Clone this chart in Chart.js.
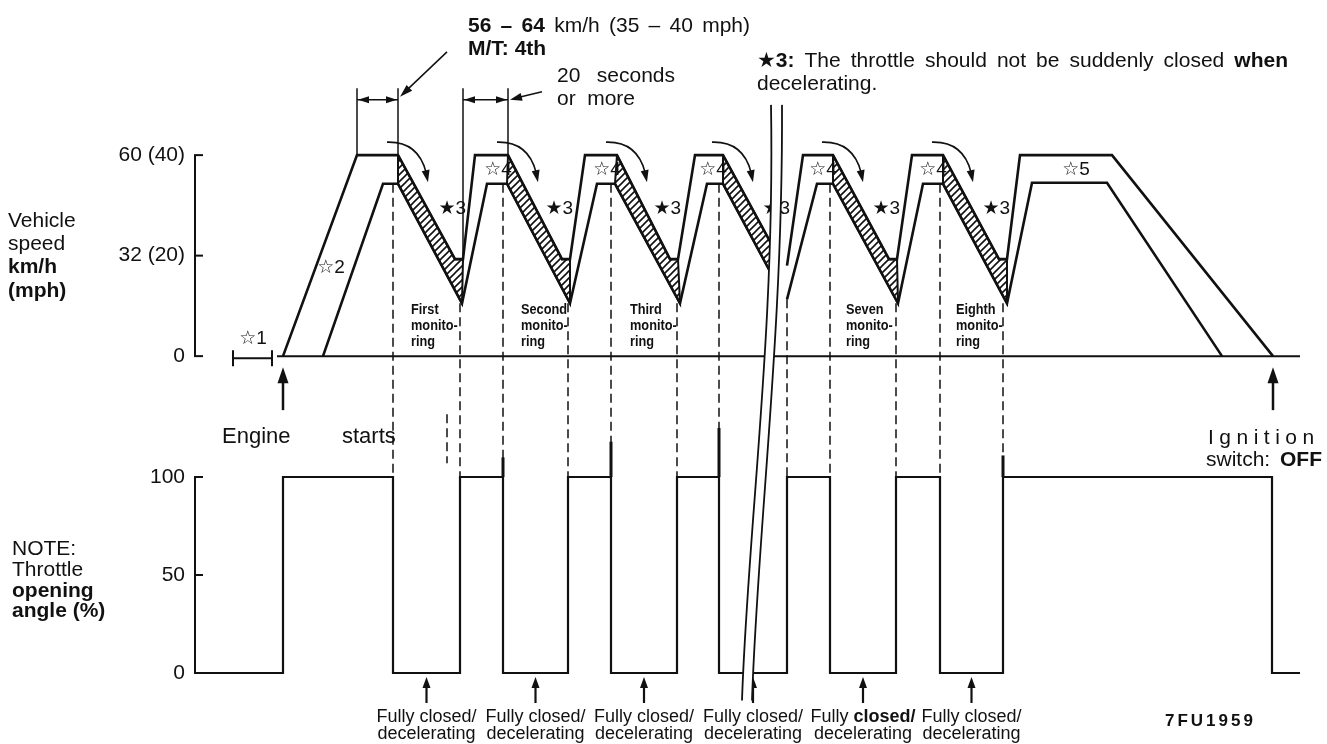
<!DOCTYPE html>
<html>
<head>
<meta charset="utf-8">
<script src="https://cdn.jsdelivr.net/npm/chart.js@4.4.0/dist/chart.umd.min.js"></script>
<style>
  html, body { margin: 0; padding: 0; background: #fff; }
  #wrap { position: relative; width: 1327px; height: 744px; }
</style>
</head>
<body>
<div id="wrap"><canvas id="chart"></canvas></div>
<script>
// time runs in plain drawing units: the source diagram has no time scale
const outerT = [88, 162, 203, 260, 268, 280, 313, 367, 375, 390, 422, 475, 483, 500, 528, 580, 586, 592, 608, 638, 694, 702, 717, 748, 804, 812, 825, 917, 1078];
const outerV = [0, 40, 40, 19.3, 19.3, 40, 40, 19.3, 19.3, 40, 40, 19.3, 19.3, 40, 40, 21, null, 18, 40, 40, 19.3, 19.3, 40, 40, 19.3, 19.3, 40, 40, 0];
const innerT = [128, 188, 203, 267, 292, 312, 375, 402, 420, 485, 512, 528, 580, 586, 592, 622, 638, 703, 728, 748, 812, 837, 912, 1027];
const innerV = [0, 34.3, 34.3, 10.5, 34.3, 34.3, 10.5, 34.3, 34.3, 10.5, 34.3, 34.3, 15, null, 11.3, 34.3, 34.3, 10.5, 34.3, 34.3, 10.5, 34.5, 34.5, 0];

// hatched decel bands: outer indices then inner indices (going back up)
const bandOuter = [[2, 3, 4], [6, 7, 8], [10, 11, 12], [14, 15], [19, 20, 21], [23, 24, 25]];
const bandInner = [[3, 2], [6, 5], [9, 8], [12, 11], [17, 16], [20, 19]];

const throtT = [5, 88, 198, 265, 308, 373, 416, 482, 524, 592, 635, 701, 745, 808, 1077, 1105];
const throtV = [0, 100, 0, 100, 0, 100, 0, 100, 0, 100, 0, 100, 0, 100, 0, 0];

const speedTickVals = [0, 20, 40];
const speedTickLabels = ['0', '32 (20)', '60 (40)'];
const throtTickVals = [0, 50, 100];
const throtTickLabels = ['0', '50', '100'];

const monitorLabels = ['First', 'Second', 'Third', 'Seven', 'Eighth'];
const monitorAt = [2, 6, 10, 19, 23];   // outer index where the decel starts
const star4At = [6, 10, 14, 19, 23];
const penT = [308, 416, 524, 808];       // heavy pen strokes above the throttle edges
const penTop = [110, 118, 125, 111];
const strayT = 252;
const breakT = 580;

const ink = '#111';
const FF = '"Liberation Sans", Arial, "DejaVu Sans", sans-serif';
const font = (size, bold) => (bold ? 'bold ' : '') + size + 'px ' + FF;

const canvas = document.getElementById('chart');
function hatch() {
  const c = document.createElement('canvas');
  c.width = 7; c.height = 7;
  const g = c.getContext('2d');
  g.strokeStyle = ink; g.lineWidth = 1.6;
  g.beginPath();
  g.moveTo(0, 7); g.lineTo(7, 0);
  g.moveTo(-1, 1); g.lineTo(1, -1);
  g.moveTo(6, 8); g.lineTo(8, 6);
  g.stroke();
  return canvas.getContext('2d').createPattern(c, 'repeat');
}
const hatchFill = hatch();

const pts = (ts, vs) => ts.map((t, i) => ({ x: t, y: vs[i] }));
const bands = bandOuter.map((oi, k) => {
  const p = oi.map(i => ({ x: outerT[i], y: outerV[i] }))
    .concat(bandInner[k].map(i => ({ x: innerT[i], y: innerV[i] })));
  p.push(p[0]);
  return {
    data: p, yAxisID: 'spd', fill: 'shape', backgroundColor: hatchFill,
    borderColor: ink, borderWidth: 2, pointRadius: 0, tension: 0, clip: false
  };
});

function nearestInner(t) {
  let best = 0;
  innerT.forEach((x, i) => { if (innerV[i] !== null && Math.abs(x - t) < Math.abs(innerT[best] - t)) best = i; });
  return innerV[best];
}

function line(ctx, x1, y1, x2, y2) {
  ctx.beginPath(); ctx.moveTo(x1, y1); ctx.lineTo(x2, y2); ctx.stroke();
}
function head(ctx, x, y, ang, len, wid) {
  ctx.beginPath();
  ctx.moveTo(x, y);
  ctx.lineTo(x - len * Math.cos(ang) + wid / 2 * Math.sin(ang), y - len * Math.sin(ang) - wid / 2 * Math.cos(ang));
  ctx.lineTo(x - len * Math.cos(ang) - wid / 2 * Math.sin(ang), y - len * Math.sin(ang) + wid / 2 * Math.cos(ang));
  ctx.closePath(); ctx.fill();
}
function spread(ctx, words, x, y, width, size) {
  const ws = words.map(w => { ctx.font = font(size, w[1]); return ctx.measureText(w[0]).width; });
  const sum = ws.reduce((a, b) => a + b, 0);
  const gap = words.length > 1 ? (width - sum) / (words.length - 1) : 0;
  let cx = x;
  words.forEach((w, i) => { ctx.font = font(size, w[1]); ctx.fillText(w[0], cx, y); cx += ws[i] + gap; });
}

const decor = {
  id: 'decor',
  afterDatasetsDraw(chart) {
    const ctx = chart.ctx;
    const X = chart.scales.x, S = chart.scales.spd, T = chart.scales.thr;
    const px = t => X.getPixelForValue(t);
    const sy = v => S.getPixelForValue(v);
    const ty = v => T.getPixelForValue(v);
    const area = chart.chartArea;
    ctx.save();
    ctx.strokeStyle = ink; ctx.fillStyle = ink;
    ctx.textBaseline = 'alphabetic'; ctx.textAlign = 'left';

    // axis brackets
    ctx.lineWidth = 2;
    const ax = area.left;
    line(ctx, ax, sy(40), ax, sy(0));
    speedTickVals.forEach(v => line(ctx, ax - 1, sy(v), ax + 8, sy(v)));
    line(ctx, ax, ty(100), ax, ty(0));
    throtTickVals.forEach(v => line(ctx, ax - 1, ty(v), ax + 8, ty(v)));

    // speed zero line and the idle bracket before start
    const x0 = px(outerT[0]), y0 = sy(0);
    line(ctx, x0 - 6, y0, area.right, y0);
    line(ctx, x0 - 50, y0 + 2, x0 - 11, y0 + 2);
    line(ctx, x0 - 50, y0 - 6, x0 - 50, y0 + 10);
    line(ctx, x0 - 11, y0 - 6, x0 - 11, y0 + 10);

    // dashed guides between the two panels
    ctx.lineWidth = 1.5;
    ctx.setLineDash([9, 5]);
    for (let i = 2; i <= 13; i++) {
      const t = throtT[i];
      line(ctx, px(t), sy(nearestInner(t)), px(t), ty(100));
    }
    line(ctx, px(strayT), ty(132), px(strayT), ty(107));
    ctx.setLineDash([]);
    ctx.lineWidth = 3;
    penT.forEach((t, i) => line(ctx, px(t), ty(penTop[i]), px(t), ty(100)));

    // dimension marks at the top
    ctx.lineWidth = 1.5;
    const yTop = sy(53.3), yA = sy(51);
    const dims = [[1, 2], [4, 6]];
    dims.forEach(([a, b]) => {
      const xa = px(outerT[a]), xb = px(outerT[b]);
      line(ctx, xa, yTop, xa, sy(outerV[a]));
      line(ctx, xb, yTop, xb, sy(outerV[b]));
      line(ctx, xa, yA, xb, yA);
      head(ctx, xa + 1, yA, Math.PI, 11, 7);
      head(ctx, xb - 1, yA, 0, 11, 7);
    });
    const xb1 = px(outerT[2]), xb2 = px(outerT[6]);
    line(ctx, xb1 + 49, yA - 48, xb1 + 8, yA - 9);
    head(ctx, xb1 + 2, yA - 3, Math.atan2(45, -47), 13, 8);
    line(ctx, xb2 + 34, yA - 8, xb2 + 9, yA - 2);
    head(ctx, xb2 + 2, yA, Math.atan2(8, -32), 12, 8);

    // curved arrows at each decel
    ctx.lineWidth = 1.6;
    const py = sy(40);
    [2, 6, 10, 14, 19, 23].forEach(i => {
      const pe = px(outerT[i]);
      ctx.beginPath();
      ctx.moveTo(pe - 11, py - 13);
      ctx.quadraticCurveTo(pe + 20, py - 14, pe + 28, py + 17);
      ctx.stroke();
      head(ctx, pe + 30, py + 27, Math.atan2(10, 2), 12, 8);
    });

    // star marks
    ctx.font = font(19);
    ctx.textAlign = 'center';
    ctx.fillText('☆1', x0 - 30, y0 - 12);
    ctx.fillText('☆2', x0 + 48, sy(16.5));
    star4At.forEach(i => ctx.fillText('☆4', px(outerT[i]) - 10, py + 20));
    ctx.fillText('☆5', px(outerT[26]) + 56, py + 20);
    ctx.textAlign = 'right';
    [4, 8, 12, 17, 21, 25].forEach(i => ctx.fillText('★3', px(outerT[i]) + 3, sy(28.3)));

    // monitoring labels
    ctx.textAlign = 'left';
    monitorLabels.forEach((lab, k) => {
      const x = px(outerT[monitorAt[k]]) + 13;
      [lab, 'monito-', 'ring'].forEach((s, j) => {
        ctx.save();
        ctx.translate(x, sy(8.3) + j * 16);
        ctx.scale(0.85, 1);
        ctx.font = font(15, true);
        ctx.fillText(s, 0, 0);
        ctx.restore();
      });
    });

    // engine start / ignition off arrows
    ctx.lineWidth = 2.5;
    const xe = px(outerT[0]), xo = px(outerT[outerT.length - 1]);
    [xe, xo].forEach(x => {
      line(ctx, x, y0 + 54, x, y0 + 20);
      head(ctx, x, y0 + 11, -Math.PI / 2, 16, 11);
    });
    ctx.font = font(22);
    ctx.fillText('Engine', 222, 443);
    ctx.fillText('starts', 342, 443);
    ctx.font = font(21);
    ctx.letterSpacing = '5.5px';
    ctx.fillText('Ignition', 1208, 444);
    ctx.letterSpacing = '0px';
    ctx.fillText('switch:', 1206, 466);
    ctx.font = font(21, true);
    ctx.fillText('OFF', 1280, 466);

    // fully closed arrows along the bottom
    ctx.lineWidth = 2.2;
    ctx.textAlign = 'center';
    for (let k = 0; k < 6; k++) {
      const xm = (px(throtT[2 + 2 * k]) + px(throtT[3 + 2 * k])) / 2;
      const yb = ty(0);
      line(ctx, xm, yb + 30, xm, yb + 12);
      head(ctx, xm, yb + 4, -Math.PI / 2, 11, 8);
      ctx.font = font(18);
      if (k === 4) {
        ctx.textAlign = 'left';
        const w1 = ctx.measureText('Fully ').width;
        ctx.font = font(18, true);
        const w2 = ctx.measureText('closed/').width;
        ctx.font = font(18);
        ctx.fillText('Fully ', xm - (w1 + w2) / 2, 722);
        ctx.font = font(18, true);
        ctx.fillText('closed/', xm - (w1 + w2) / 2 + w1, 722);
        ctx.textAlign = 'center';
        ctx.font = font(18);
      } else {
        ctx.fillText('Fully closed/', xm, 722);
      }
      ctx.fillText('decelerating', xm, 739);
    }

    // left titles
    ctx.textAlign = 'left';
    ctx.font = font(21); ctx.fillText('Vehicle', 8, 227); ctx.fillText('speed', 8, 250);
    ctx.font = font(21, true); ctx.fillText('km/h', 8, 273); ctx.fillText('(mph)', 8, 297);
    ctx.font = font(21); ctx.fillText('NOTE:', 12, 555); ctx.fillText('Throttle', 12, 576);
    ctx.font = font(21, true); ctx.fillText('opening', 12, 597); ctx.fillText('angle (%)', 12, 617);

    // top notes
    spread(ctx, [['56', 1], ['–', 1], ['64', 1], ['km/h'], ['(35'], ['–'], ['40'], ['mph)']], 468, 32, 282, 21);
    ctx.font = font(21, true); ctx.fillText('M/T: 4th', 468, 55);
    spread(ctx, [['20'], ['seconds']], 557, 82, 118, 21);
    spread(ctx, [['or'], ['more']], 557, 105, 78, 21);
    spread(ctx, [['★3:', 1], ['The'], ['throttle'], ['should'], ['not'], ['be'], ['suddenly'], ['closed'], ['when', 1]], 757, 67, 531, 21);
    ctx.font = font(21); ctx.fillText('decelerating.', 757, 90);

    ctx.font = font(17, true);
    ctx.letterSpacing = '3px';
    ctx.fillText('7FU1959', 1165, 726);
    ctx.letterSpacing = '0px';

    // break in the time axis
    const bx = px(breakT), bt = sy(50), bb = ty(-14);
    const A = [[bx - 4, bt], [bx, bt + 230], [bx - 27, bt + 420], [bx - 33, bb]];
    const B = [[bx + 7, bt], [bx + 8, bt + 230], [bx - 17, bt + 420], [bx - 23, bb]];
    ctx.fillStyle = '#fff';
    ctx.beginPath();
    ctx.moveTo(...A[0]); ctx.bezierCurveTo(...A[1], ...A[2], ...A[3]);
    ctx.lineTo(...B[3]); ctx.bezierCurveTo(...B[2], ...B[1], ...B[0]);
    ctx.closePath(); ctx.fill();
    ctx.lineWidth = 1.8;
    [A, B].forEach(P => {
      ctx.beginPath(); ctx.moveTo(...P[0]); ctx.bezierCurveTo(...P[1], ...P[2], ...P[3]); ctx.stroke();
    });
    ctx.restore();
  }
};

new Chart(canvas, {
  type: 'line',
  data: {
    datasets: [
      { data: pts(outerT, outerV), yAxisID: 'spd', borderColor: ink, borderWidth: 2.6, pointRadius: 0, tension: 0, fill: false, spanGaps: false, clip: false },
      { data: pts(innerT, innerV), yAxisID: 'spd', borderColor: ink, borderWidth: 2.6, pointRadius: 0, tension: 0, fill: false, spanGaps: false, clip: false },
      { data: pts(throtT, throtV), yAxisID: 'thr', stepped: true, borderColor: ink, borderWidth: 2.2, pointRadius: 0, fill: false, clip: false },
      ...bands
    ]
  },
  options: {
    responsive: true,
    maintainAspectRatio: false,
    animation: false,
    events: [],
    layout: { padding: { top: 130, bottom: 44, left: 0, right: 27 } },
    plugins: { legend: { display: false }, tooltip: { enabled: false } },
    scales: {
      x: { type: 'linear', min: 0, max: 1105, display: false },
      thr: {
        type: 'linear', position: 'left', stack: 'panels', stackWeight: 280,
        min: -13.78, max: 129.08,
        afterBuildTicks: s => { s.ticks = throtTickVals.map(v => ({ value: v })); },
        afterFit: s => { s.width = 195; },
        grid: { display: false, drawTicks: false },
        border: { display: false },
        ticks: { padding: 10, color: ink, font: { family: FF, size: 21 }, callback: v => throtTickLabels[throtTickVals.indexOf(v)] }
      },
      spd: {
        type: 'linear', position: 'left', stack: 'panels', stackWeight: 290,
        min: -12.71, max: 45,
        afterBuildTicks: s => { s.ticks = speedTickVals.map(v => ({ value: v })); },
        afterFit: s => { s.width = 195; },
        grid: { display: false, drawTicks: false },
        border: { display: false },
        ticks: { padding: 10, color: ink, font: { family: FF, size: 21 }, callback: v => speedTickLabels[speedTickVals.indexOf(v)] }
      }
    }
  },
  plugins: [decor]
});
</script>
</body>
</html>
